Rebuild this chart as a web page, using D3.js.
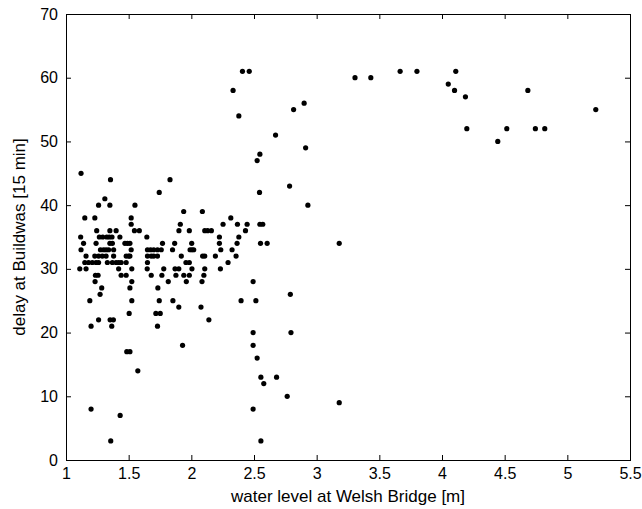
<!DOCTYPE html>
<html>
<head>
<meta charset="utf-8">
<script src="https://cdn.jsdelivr.net/npm/d3@7"></script>
<style>
    html, body { margin: 0; padding: 0; background: #fff; }
    svg { display: block; font-family: "Liberation Sans", Arial, sans-serif; }
</style>
</head>
<body>
<div id="chart"></div>
<script>
/* --------------------------------------------------------------
DATOS — nivel de agua (m) vs. retraso (intervalos de 15 min)
-------------------------------------------------------------- */

const waterLevel = [
    1.12, 1.355, 1.83, 2.784, 1.744, 2.544, 1.31, 1.26, 1.35, 1.55, 2.93,
    1.939, 2.088, 1.15, 1.23, 1.52, 2.315,
    1.52, 1.912, 2.253, 2.368, 2.445, 2.547, 2.57,
    1.245, 1.35, 1.40, 1.546, 1.585, 1.901, 1.984, 2.107, 2.13, 2.16, 2.432,
    1.117, 1.266, 1.293, 1.325, 1.345, 1.367, 1.43, 1.645, 2.224, 2.379,
    1.14, 1.24, 1.35, 1.37, 1.47, 1.49, 1.51, 1.77, 1.867, 2.003, 2.224, 2.365, 2.552, 2.605, 3.18,
    1.12, 1.275, 1.30, 1.32, 1.34, 1.38, 1.52, 1.65, 1.675, 1.70, 1.73, 1.76, 1.85, 1.99, 2.005, 2.019, 2.235, 2.325,
    1.16, 1.23, 1.26, 1.29, 1.32, 1.38, 1.48, 1.50, 1.51, 1.65, 1.68, 1.70, 1.73, 1.92, 2.09, 2.107, 2.192, 2.357,
    1.15, 1.18, 1.21, 1.24, 1.26, 1.33, 1.37, 1.40, 1.42, 1.44, 1.48, 1.65, 1.957, 1.984, 2.293,
    1.11, 1.16, 1.42, 1.525, 1.648, 1.78, 1.87, 1.9, 2.005, 2.107, 2.232,
    1.235, 1.256, 1.44, 1.48, 1.68, 1.765, 1.877, 1.94, 1.984, 2.1,
    1.232, 1.525, 1.816, 1.96, 2.085, 2.493, 1.285, 1.51, 1.733,
    1.272, 2.79, 1.19, 1.525, 1.744, 1.853, 2.397, 2.515, 1.9, 2.077,
    1.504, 1.717, 1.752, 1.26, 1.352, 1.378, 2.14, 1.2, 1.365, 1.73, 2.493, 2.795,
    1.93, 2.493, 1.485, 1.51, 2.525, 1.573, 2.555, 2.68, 2.578, 2.765, 3.18, 1.2, 2.493, 1.432, 1.357, 2.555,
    2.408, 2.462, 3.666, 3.80, 4.11, 3.306, 3.432, 4.05, 2.333, 4.10, 4.685,
    4.187, 2.9, 2.816, 5.227, 2.379, 4.198, 4.517, 4.745, 4.82, 2.672, 4.445, 2.912, 2.547, 2.525
];

const delay = [
    45, 44, 44, 43, 42, 42, 41, 40, 40, 40, 40,
    39, 39, 38, 38, 38, 38,
    37, 37, 37, 37, 37, 37, 37,
    36, 36, 36, 36, 36, 36, 36, 36, 36, 36, 36,
    35, 35, 35, 35, 35, 35, 35, 35, 35, 35,
    34, 34, 34, 34, 34, 34, 34, 34, 34, 34, 34, 34, 34, 34, 34,
    33, 33, 33, 33, 33, 33, 33, 33, 33, 33, 33, 33, 33, 33, 33, 33, 33, 33,
    32, 32, 32, 32, 32, 32, 32, 32, 32, 32, 32, 32, 32, 32, 32, 32, 32, 32,
    31, 31, 31, 31, 31, 31, 31, 31, 31, 31, 31, 31, 31, 31, 31,
    30, 30, 30, 30, 30, 30, 30, 30, 30, 30, 30,
    29, 29, 29, 29, 29, 29, 29, 29, 29, 29,
    28, 28, 28, 28, 28, 28, 27, 27, 27,
    26, 26, 25, 25, 25, 25, 25, 25, 24, 24,
    23, 23, 23, 22, 22, 22, 22, 21, 21, 21, 20, 20,
    18, 18, 17, 17, 16, 14, 13, 13, 12, 10, 9, 8, 8, 7, 3, 3,
    61, 61, 61, 61, 61, 60, 60, 59, 58, 58, 58,
    57, 56, 55, 55, 54, 52, 52, 52, 52, 51, 50, 49, 48, 47
];

const xTicks = [1, 1.5, 2, 2.5, 3, 3.5, 4, 4.5, 5, 5.5];
const yTicks = [0, 10, 20, 30, 40, 50, 60, 70];

const xTitle = "water level at Welsh Bridge [m]";
const yTitle = "delay at Buildwas [15 min]";

/* --------------------------------------------------------------
LIENZO
-------------------------------------------------------------- */

const W = 642, H = 509;
const margin = { top: 14, right: 12, bottom: 49, left: 66 };
const innerW = W - margin.left - margin.right;
const innerH = H - margin.top - margin.bottom;

const svg = d3.select("#chart")
    .append("svg")
    .attr("width", W)
    .attr("height", H);

const g = svg.append("g")
    .attr("transform", `translate(${margin.left},${margin.top})`);

const x = d3.scaleLinear().domain([1, 5.5]).range([0, innerW]);
const y = d3.scaleLinear().domain([0, 70]).range([innerH, 0]);

/* --------------------------------------------------------------
EJES (ticks hacia dentro, estilo caja)
-------------------------------------------------------------- */

function styleAxis(sel) {
    sel.select(".domain").remove();
    sel.selectAll(".tick line").attr("stroke", "#000");
    sel.selectAll(".tick text")
        .attr("fill", "#000")
        .style("font-size", "16px");
}

g.append("g")
    .attr("transform", `translate(0,${innerH})`)
    .call(d3.axisBottom(x).tickValues(xTicks).tickFormat(d3.format("")).tickSize(-5).tickPadding(8))
    .call(styleAxis);

g.append("g")
    .call(d3.axisLeft(y).tickValues(yTicks).tickSize(-5).tickPadding(8))
    .call(styleAxis);

g.append("g")
    .call(d3.axisTop(x).tickValues(xTicks).tickFormat("").tickSize(-5))
    .call(styleAxis);

g.append("g")
    .attr("transform", `translate(${innerW},0)`)
    .call(d3.axisRight(y).tickValues(yTicks).tickFormat("").tickSize(-5))
    .call(styleAxis);

g.append("rect")
    .attr("x", 0.5)
    .attr("y", 0.5)
    .attr("width", innerW)
    .attr("height", innerH)
    .attr("fill", "none")
    .attr("stroke", "#000");

/* --------------------------------------------------------------
PUNTOS
-------------------------------------------------------------- */

g.append("g")
    .selectAll("circle")
    .data(d3.range(waterLevel.length))
    .enter()
    .append("circle")
    .attr("cx", i => x(waterLevel[i]))
    .attr("cy", i => y(delay[i]))
    .attr("r", 2.6)
    .attr("fill", "#000");

/* --------------------------------------------------------------
TÍTULOS DE EJES
-------------------------------------------------------------- */

svg.append("text")
    .attr("x", margin.left + innerW / 2)
    .attr("y", 502)
    .attr("text-anchor", "middle")
    .style("font-size", "17px")
    .text(xTitle);

svg.append("text")
    .attr("transform", `translate(25,${margin.top + innerH / 2}) rotate(-90)`)
    .attr("text-anchor", "middle")
    .style("font-size", "17px")
    .text(yTitle);
</script>
</body>
</html>
